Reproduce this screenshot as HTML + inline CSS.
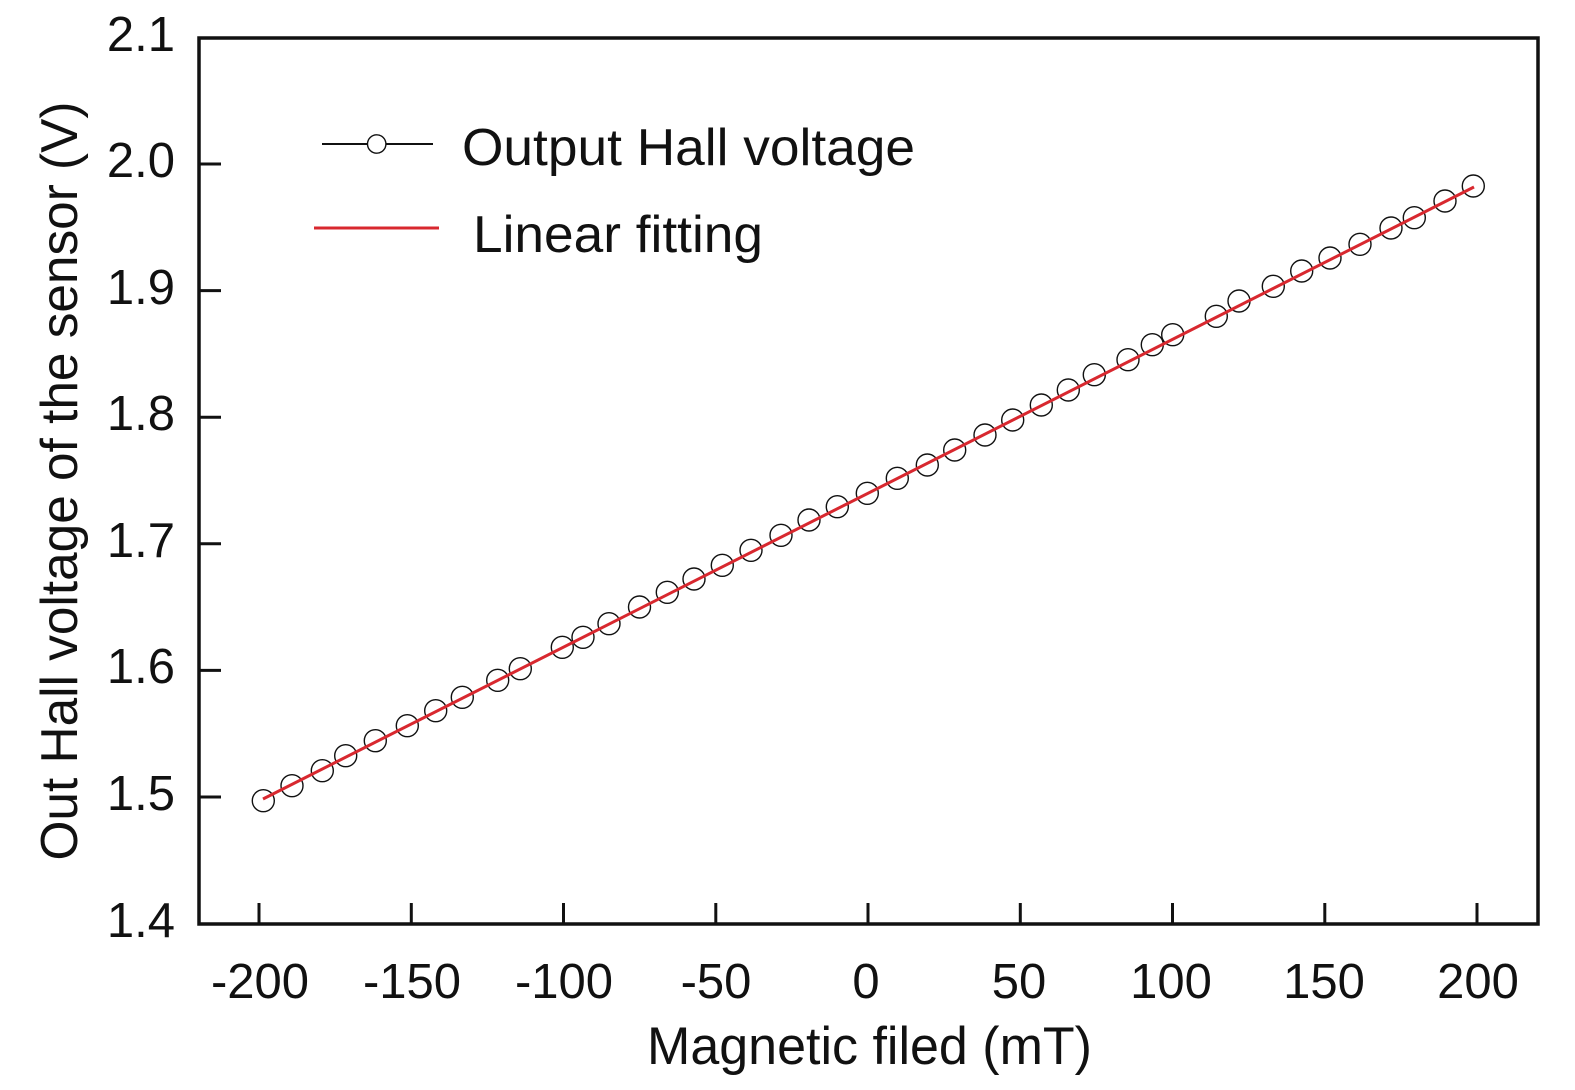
<!DOCTYPE html>
<html>
<head>
<meta charset="utf-8">
<style>
html,body{margin:0;padding:0;background:#fff;}
svg{display:block;}
text{font-family:"Liberation Sans",Arial,sans-serif;fill:#111;}
</style>
</head>
<body>
<svg width="1575" height="1090" viewBox="0 0 1575 1090" xmlns="http://www.w3.org/2000/svg">
<rect x="0" y="0" width="1575" height="1090" fill="#fff"/>
<rect x="199" y="38" width="1339" height="886" fill="none" stroke="#111" stroke-width="3.5"/>
<g stroke="#111" stroke-width="3">
<line x1="199" y1="164" x2="221" y2="164"/>
<line x1="199" y1="290.6" x2="221" y2="290.6"/>
<line x1="199" y1="417.2" x2="221" y2="417.2"/>
<line x1="199" y1="543.8" x2="221" y2="543.8"/>
<line x1="199" y1="670.4" x2="221" y2="670.4"/>
<line x1="199" y1="797" x2="221" y2="797"/>
<line x1="259" y1="924" x2="259" y2="903"/>
<line x1="411.3" y1="924" x2="411.3" y2="903"/>
<line x1="563.5" y1="924" x2="563.5" y2="903"/>
<line x1="715.8" y1="924" x2="715.8" y2="903"/>
<line x1="868" y1="924" x2="868" y2="903"/>
<line x1="1020.3" y1="924" x2="1020.3" y2="903"/>
<line x1="1172.5" y1="924" x2="1172.5" y2="903"/>
<line x1="1324.8" y1="924" x2="1324.8" y2="903"/>
<line x1="1477" y1="924" x2="1477" y2="903"/>
</g>
<g font-size="49" text-anchor="end">
<text x="175" y="51">2.1</text>
<text x="175" y="177">2.0</text>
<text x="175" y="304">1.9</text>
<text x="175" y="430">1.8</text>
<text x="175" y="557">1.7</text>
<text x="175" y="683">1.6</text>
<text x="175" y="810">1.5</text>
<text x="175" y="937">1.4</text>
</g>
<g font-size="49" text-anchor="middle">
<text x="260" y="998">-200</text>
<text x="412" y="998">-150</text>
<text x="564" y="998">-100</text>
<text x="716" y="998">-50</text>
<text x="866" y="998">0</text>
<text x="1019" y="998">50</text>
<text x="1171" y="998">100</text>
<text x="1324" y="998">150</text>
<text x="1478" y="998">200</text>
</g>
<text x="647" y="1064" font-size="53" textLength="445" lengthAdjust="spacingAndGlyphs">Magnetic filed (mT)</text>
<text transform="translate(77,481) rotate(-90)" font-size="52" text-anchor="middle" textLength="759" lengthAdjust="spacingAndGlyphs">Out Hall voltage of the sensor (V)</text>
<g fill="none" stroke="#111" stroke-width="1.4">
<circle cx="263.3" cy="800.7" r="11"/>
<circle cx="292" cy="785.7" r="11"/>
<circle cx="322.3" cy="770.7" r="11"/>
<circle cx="345.7" cy="755.7" r="11"/>
<circle cx="375.3" cy="740.7" r="11"/>
<circle cx="407.3" cy="725.7" r="11"/>
<circle cx="435.7" cy="710.7" r="11"/>
<circle cx="462.3" cy="697.3" r="11"/>
<circle cx="497.7" cy="680.3" r="11"/>
<circle cx="520.3" cy="668.7" r="11"/>
<circle cx="562.3" cy="647.3" r="11"/>
<circle cx="583" cy="637.3" r="11"/>
<circle cx="609" cy="623.7" r="11"/>
<circle cx="639.5" cy="607" r="11"/>
<circle cx="667.3" cy="592.3" r="11"/>
<circle cx="694" cy="579" r="11"/>
<circle cx="722.3" cy="565.3" r="11"/>
<circle cx="751" cy="550.3" r="11"/>
<circle cx="781" cy="535.3" r="11"/>
<circle cx="809" cy="520" r="11"/>
<circle cx="837.3" cy="506.7" r="11"/>
<circle cx="867.3" cy="493.3" r="11"/>
<circle cx="897.3" cy="478.3" r="11"/>
<circle cx="927.3" cy="465" r="11"/>
<circle cx="954.7" cy="450" r="11"/>
<circle cx="985" cy="435" r="11"/>
<circle cx="1012.7" cy="420" r="11"/>
<circle cx="1041.3" cy="405" r="11"/>
<circle cx="1068.3" cy="390" r="11"/>
<circle cx="1094.3" cy="374.7" r="11"/>
<circle cx="1128" cy="359.7" r="11"/>
<circle cx="1152.3" cy="344.7" r="11"/>
<circle cx="1172.7" cy="334.7" r="11"/>
<circle cx="1216.3" cy="316.3" r="11"/>
<circle cx="1239" cy="301" r="11"/>
<circle cx="1273.3" cy="286.3" r="11"/>
<circle cx="1301.7" cy="271" r="11"/>
<circle cx="1330" cy="258" r="11"/>
<circle cx="1360" cy="244.3" r="11"/>
<circle cx="1391" cy="228" r="11"/>
<circle cx="1414.3" cy="217.7" r="11"/>
<circle cx="1445" cy="201" r="11"/>
<circle cx="1473.3" cy="186" r="11"/>
</g>
<line x1="263" y1="799" x2="1474" y2="187" stroke="#d8282f" stroke-width="3"/>
<line x1="322" y1="144" x2="367.5" y2="144" stroke="#111" stroke-width="2"/>
<line x1="386" y1="144" x2="433" y2="144" stroke="#111" stroke-width="2"/>
<circle cx="376.7" cy="144" r="9.2" fill="#fff" stroke="#111" stroke-width="1.4"/>
<line x1="314" y1="228" x2="439" y2="228" stroke="#d8282f" stroke-width="3"/>
<text x="462" y="165" font-size="52" textLength="453" lengthAdjust="spacingAndGlyphs">Output Hall voltage</text>
<text x="473" y="252" font-size="52" textLength="290" lengthAdjust="spacingAndGlyphs">Linear fitting</text>
</svg>
</body>
</html>
